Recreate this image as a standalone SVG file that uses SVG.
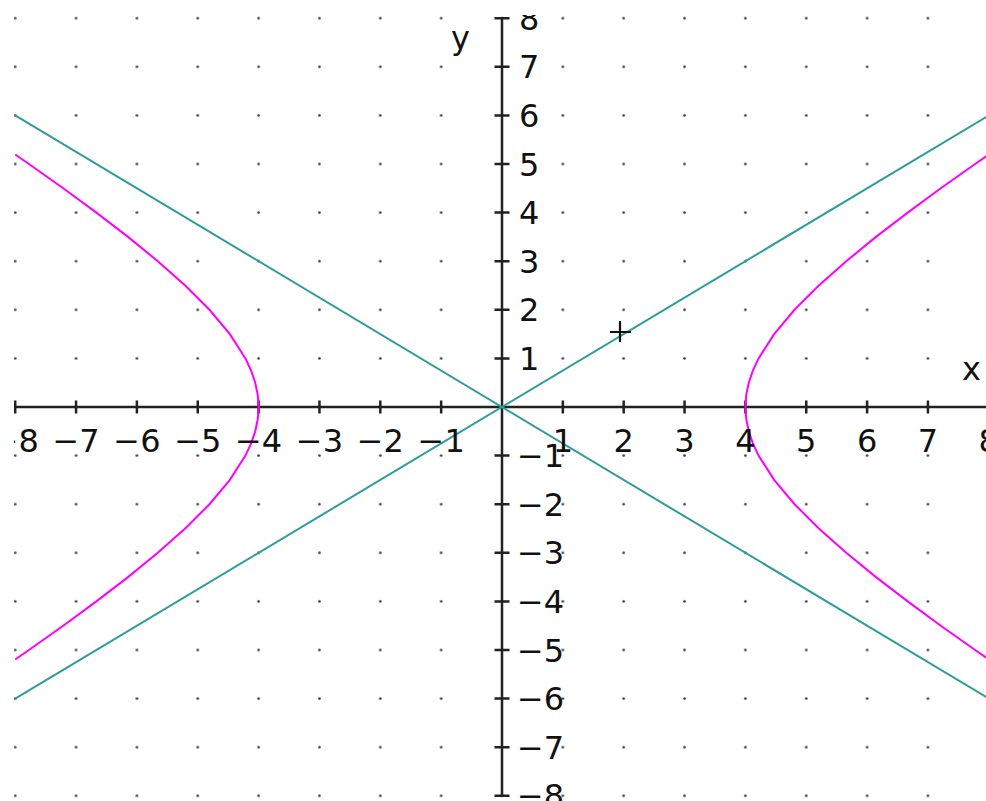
<svg xmlns="http://www.w3.org/2000/svg" width="986" height="801" viewBox="0 0 986 801">
<style>
.lbl{font-family:"DejaVu Sans",sans-serif;font-size:32px;fill:#111}
.xl{text-anchor:middle}
.axis{stroke:#222;stroke-width:2.5;fill:none}
.tick{stroke:#222;stroke-width:2.5}
.asym{stroke:#2f9c9c;stroke-width:2;fill:none}
.hyp{stroke:#ff00ff;stroke-width:2;fill:none}
</style>
<defs>
<clipPath id="plot"><rect x="14" y="15" width="980" height="800"/></clipPath>
<pattern id="dots" patternUnits="userSpaceOnUse" x="471.575" y="382.7" width="60.85" height="48.6">
<circle cx="30.425" cy="24.3" r="1.3" fill="#333"/>
</pattern>
</defs>
<rect width="986" height="801" fill="#fff"/>
<g clip-path="url(#plot)">
<g id="grid"><rect x="10" y="10" width="980" height="800" fill="url(#dots)"/></g>
<g id="axes">
<line class="axis" x1="15.2" y1="407" x2="990" y2="407"/>
<line class="axis" x1="502" y1="18.2" x2="502" y2="796"/>
<path class="tick" d="M15.2 400.5V413.5M76.05 400.5V413.5M136.9 400.5V413.5M197.75 400.5V413.5M258.6 400.5V413.5M319.45 400.5V413.5M380.3 400.5V413.5M441.15 400.5V413.5M562.85 400.5V413.5M623.7 400.5V413.5M684.55 400.5V413.5M745.4 400.5V413.5M806.25 400.5V413.5M867.1 400.5V413.5M927.95 400.5V413.5M988.8 400.5V413.5"/>
<path class="tick" d="M494.5 18.2H509.5M494.5 66.8H509.5M494.5 115.4H509.5M494.5 164H509.5M494.5 212.6H509.5M494.5 261.2H509.5M494.5 309.8H509.5M494.5 358.4H509.5M494.5 455.6H509.5M494.5 504.2H509.5M494.5 552.8H509.5M494.5 601.4H509.5M494.5 650H509.5M494.5 698.6H509.5M494.5 747.2H509.5M494.5 795.8H509.5"/>
</g>
<g id="curves">
<line class="asym" x1="15.2" y1="115.4" x2="988.8" y2="698.6"/>
<line class="asym" x1="15.2" y1="698.6" x2="988.8" y2="115.4"/>
<polyline class="hyp" points="988.8,154.5 975.08,164 940.8,188.3 907.67,212.6 876.01,236.9 846.22,261.2 818.83,285.5 794.53,309.8 774.13,334.1 758.57,358.4 752.89,370.55 748.76,382.7 746.24,394.85 745.4,407 746.24,419.15 748.76,431.3 752.89,443.45 758.57,455.6 774.13,479.9 794.53,504.2 818.83,528.5 846.22,552.8 876.01,577.1 907.67,601.4 940.8,625.7 975.08,650 988.8,659.5"/>
<polyline class="hyp" points="15.2,154.5 28.92,164 63.2,188.3 96.33,212.6 127.99,236.9 157.78,261.2 185.17,285.5 209.47,309.8 229.87,334.1 245.43,358.4 251.11,370.55 255.24,382.7 257.76,394.85 258.6,407 257.76,419.15 255.24,431.3 251.11,443.45 245.43,455.6 229.87,479.9 209.47,504.2 185.17,528.5 157.78,552.8 127.99,577.1 96.33,601.4 63.2,625.7 28.92,650 15.2,659.5"/>
<path d="M610 332H631M620 321V342" stroke="#111" stroke-width="2.2"/>
</g>
<g id="labels" class="lbl">
<text class="xl" x="15.2" y="452">−8</text>
<text class="xl" x="76.05" y="452">−7</text>
<text class="xl" x="136.9" y="452">−6</text>
<text class="xl" x="197.75" y="452">−5</text>
<text class="xl" x="258.6" y="452">−4</text>
<text class="xl" x="319.45" y="452">−3</text>
<text class="xl" x="380.3" y="452">−2</text>
<text class="xl" x="441.15" y="452">−1</text>
<text class="xl" x="562.85" y="452">1</text>
<text class="xl" x="623.7" y="452">2</text>
<text class="xl" x="684.55" y="452">3</text>
<text class="xl" x="745.4" y="452">4</text>
<text class="xl" x="806.25" y="452">5</text>
<text class="xl" x="867.1" y="452">6</text>
<text class="xl" x="927.95" y="452">7</text>
<text class="xl" x="988.8" y="452">8</text>
<text x="519" y="29.7">8</text>
<text x="519" y="78.3">7</text>
<text x="519" y="126.9">6</text>
<text x="519" y="175.5">5</text>
<text x="519" y="224.1">4</text>
<text x="519" y="272.7">3</text>
<text x="519" y="321.3">2</text>
<text x="519" y="369.9">1</text>
<text x="517" y="467.1">−1</text>
<text x="517" y="515.7">−2</text>
<text x="517" y="564.3">−3</text>
<text x="517" y="612.9">−4</text>
<text x="517" y="661.5">−5</text>
<text x="517" y="710.1">−6</text>
<text x="517" y="758.7">−7</text>
<text x="517" y="807.3">−8</text>
<text x="451" y="49">y</text>
<text x="962" y="380">x</text>
</g>
</g>
</svg>
